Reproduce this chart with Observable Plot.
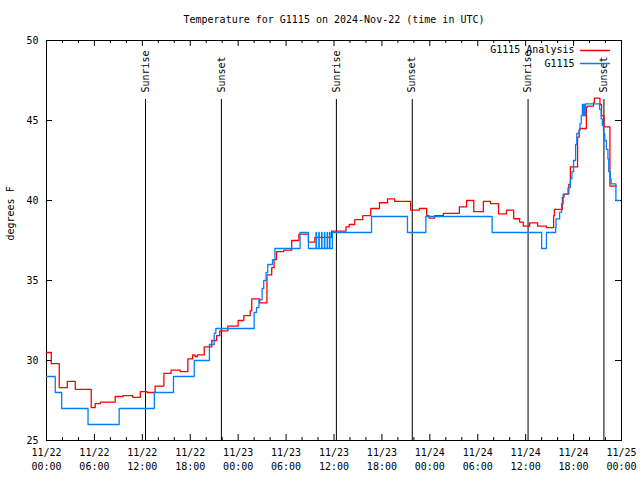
<!DOCTYPE html>
<html>
<head>
<meta charset="utf-8">
<script src="https://cdn.jsdelivr.net/npm/d3@7"></script>
<script src="https://cdn.jsdelivr.net/npm/@observablehq/plot@0.6"></script>
<style>
  body { margin: 0; background: white; }
</style>
</head>
<body>
<div id="chart"></div>
<script>
// Hours since 2024-11-22 00:00 UTC
const titleText = "Temperature for G1115 on 2024-Nov-22 (time in UTC)";
const yLabel = "degrees F";

const tickHours = [0, 6, 12, 18, 24, 30, 36, 42, 48, 54, 60, 66, 72];
const tickLabels = ["11/22\n00:00", "11/22\n06:00", "11/22\n12:00", "11/22\n18:00",
                    "11/23\n00:00", "11/23\n06:00", "11/23\n12:00", "11/23\n18:00",
                    "11/24\n00:00", "11/24\n06:00", "11/24\n12:00", "11/24\n18:00",
                    "11/25\n00:00"];
const minorHours = [2, 4, 8, 10, 14, 16, 20, 22, 26, 28, 32, 34, 38, 40, 44, 46, 50, 52, 56, 58, 62, 64, 68, 70];
const yTicks = [25, 30, 35, 40, 45, 50];

const eventHours = [12.4, 21.9, 36.3, 45.8, 60.3, 69.8];
const eventLabels = ["Sunrise", "Sunset", "Sunrise", "Sunset", "Sunrise", "Sunset"];

const seriesNames = ["G1115 Analysis", "G1115"];
const seriesColors = ["#ff0000", "#0080ff"];

// G1115 Analysis (red)
const analysisHours = [0, 0.6, 1.6, 2.6, 3.6, 5.6, 6.1, 6.75, 8.6, 9.6, 10.8, 11.75, 12.6, 13.6, 14.7, 15.6, 16.75,
  17.7, 18.3, 18.6, 18.9, 19.75, 20.7, 21.3, 21.7, 22.7, 24.0, 24.7, 25.5, 25.7, 26.7, 27.6, 28.2, 28.5, 28.8, 29.7,
  30.7, 31.6, 32.8, 33.6, 35.7, 37.5, 37.9, 38.6, 39.6, 40.6, 41.7, 42.7, 43.6, 45.6, 46.7, 47.6, 47.9, 48.6, 49.7,
  51.7, 52.6, 53.5, 54.7, 55.6, 56.6, 57.6, 58.5, 59.25, 59.7, 60.5, 61.5, 62.6, 63.5, 63.6, 64.6, 64.8, 65.4, 65.6,
  66.5, 66.7, 66.8, 67.6, 67.7, 68.5, 68.6, 69.3, 69.5, 69.8, 70.55, 71.4];
const analysisTemps = [30.5, 29.8, 28.3, 28.7, 28.2, 27.05, 27.3, 27.4, 27.75, 27.8, 27.7, 28.05, 28.0, 28.4, 29.2, 29.4, 29.3,
  30.1, 30.35, 30.25, 30.35, 30.85, 31.25, 31.55, 31.85, 32.15, 32.5, 32.8, 33.1, 33.85, 33.6, 35.35, 35.8, 36.3, 36.8, 36.9,
  37.5, 37.9, 37.4, 37.7, 38.08, 38.35, 38.5, 38.8, 39.06, 39.5, 39.86, 40.1, 39.94, 39.4, 39.5, 39.06, 38.9, 39.06, 39.2,
  39.6, 40.0, 39.3, 39.94, 39.8, 39.17, 39.4, 38.86, 38.65, 38.4, 38.6, 38.4, 38.3, 39.06, 39.44, 40.2, 40.4, 41.0, 42.1,
  43.96, 44.4, 44.5, 45.8, 45.9, 46.1, 46.4, 46.0, 45.3, 44.6, 40.9, 40.9];

// G1115 observations (blue)
const stationHours = [0, 1.1, 1.9, 5.2, 9.1, 13.5, 15.9, 18.5, 20.4, 21.0, 21.2, 26.0, 26.3, 26.6, 27.0, 27.2, 27.5, 27.7,
  28.3, 28.6, 31.75, 32.8, 33.75, 33.8, 34.1, 34.15, 34.45, 34.5, 34.8, 34.85, 35.15, 35.2, 35.45, 35.5, 35.8,
  40.7, 45.2, 47.5, 55.8, 62.0, 62.6, 63.75, 63.8, 64.25, 64.5, 64.7, 65.3, 65.6, 65.8, 66.0, 66.25, 66.4, 66.7, 66.8,
  66.96, 67.1, 67.2, 67.3, 67.4, 67.5, 69.25, 69.45, 69.6, 69.75, 69.9, 70.1, 70.3, 70.4, 70.6, 70.7, 71.3, 71.75];
const stationTemps = [29.0, 28.0, 27.0, 26.0, 27.0, 28.0, 29.0, 30.0, 31.0, 31.7, 32.0, 33.0, 33.3, 33.8, 34.5, 35.0, 35.5, 36.0,
  36.3, 37.0, 38.0, 37.0, 38.0, 37.0, 38.0, 37.0, 38.0, 37.0, 38.0, 37.0, 38.0, 37.0, 38.0, 37.0, 38.0,
  39.0, 38.0, 39.0, 38.0, 37.0, 38.0, 38.3, 38.85, 39.27, 39.8, 40.4, 40.8, 41.35, 41.8, 42.5, 43.5, 44.2, 44.4, 44.8,
  45.3, 46.0, 45.3, 46.0, 45.3, 46.04, 45.7, 45.1, 44.7, 44.2, 43.75, 43.2, 42.6, 41.8, 41.35, 41.04, 40.0, 40.0];

const analysis = analysisHours.map((h, i) => ({h, t: analysisTemps[i]}));
const station = stationHours.map((h, i) => ({h, t: stationTemps[i]}));
const legendRows = seriesNames.map((name, i) => ({name, color: seriesColors[i], row: i}));

const W = 640, H = 480, ML = 46, MR = 19, MT = 40, MB = 40;
const FW = W - ML - MR, FH = H - MT - MB;

const lineShape = {draw(context, l) { context.moveTo(0, 0); context.lineTo(0, -l); }};

const chart = Plot.plot({
  width: W, height: H,
  marginLeft: ML, marginRight: MR, marginTop: MT, marginBottom: MB,
  style: {fontFamily: "'DejaVu Sans Mono', monospace", fontSize: "10px", background: "white", color: "black"},
  x: {domain: [0, 72]},
  y: {domain: [25, 50]},
  marks: [
    Plot.frame({stroke: "black"}),
    // ticks (inward, mirrored)
    Plot.tickX(tickHours, {x: d => d, insetTop: FH - 6, stroke: "black"}),
    Plot.tickX(tickHours, {x: d => d, insetBottom: FH - 6, stroke: "black"}),
    Plot.tickX(minorHours, {x: d => d, insetTop: FH - 3, stroke: "black"}),
    Plot.tickX(minorHours, {x: d => d, insetBottom: FH - 3, stroke: "black"}),
    Plot.tickY(yTicks, {y: d => d, insetRight: FW - 6, stroke: "black"}),
    Plot.tickY(yTicks, {y: d => d, insetLeft: FW - 6, stroke: "black"}),
    Plot.axisX(tickHours, {tickSize: 0, tickPadding: 6, label: null, lineHeight: 1.4,
      tickFormat: d => tickLabels[tickHours.indexOf(d)]}),
    Plot.axisY(yTicks, {tickSize: 0, tickPadding: 8, label: null}),
    // sunrise / sunset
    Plot.ruleX(eventHours, {x: d => d, insetTop: 59, stroke: "black", strokeWidth: 1}),
    Plot.text(eventHours, {x: d => d, text: (d, i) => eventLabels[i], frameAnchor: "top", dy: 52,
      rotate: -90, textAnchor: "start", lineAnchor: "middle", fill: "black"}),
    // series
    Plot.line(analysis, {x: "h", y: "t", stroke: seriesColors[0], strokeWidth: 1.3, curve: "step-after"}),
    Plot.line(station, {x: "h", y: "t", stroke: seriesColors[1], strokeWidth: 1.3, curve: "step-after"}),
    // legend (anchored to the frame's top-right corner)
    Plot.text(legendRows.filter(d => d.row === 0), {text: "name", frameAnchor: "top-right", dx: -47, dy: 9,
      textAnchor: "end", lineAnchor: "middle", fill: "black"}),
    Plot.text(legendRows.filter(d => d.row === 1), {text: "name", frameAnchor: "top-right", dx: -47, dy: 23,
      textAnchor: "end", lineAnchor: "middle", fill: "black"}),
    Plot.vector(legendRows.filter(d => d.row === 0), {frameAnchor: "top-right", dx: -12, dy: 10, length: 29,
      rotate: 90, anchor: "end", shape: lineShape, stroke: seriesColors[0], strokeWidth: 1.3}),
    Plot.vector(legendRows.filter(d => d.row === 1), {frameAnchor: "top-right", dx: -12, dy: 23, length: 29,
      rotate: 90, anchor: "end", shape: lineShape, stroke: seriesColors[1], strokeWidth: 1.3}),
    // title and y label
    Plot.text([titleText], {text: d => d, frameAnchor: "top", dy: -21, lineAnchor: "middle", fill: "black"}),
    Plot.text([yLabel], {text: d => d, frameAnchor: "left", dx: -36, rotate: -90, lineAnchor: "middle", fill: "black"})
  ]
});

document.getElementById("chart").appendChild(chart);
</script>
</body>
</html>
